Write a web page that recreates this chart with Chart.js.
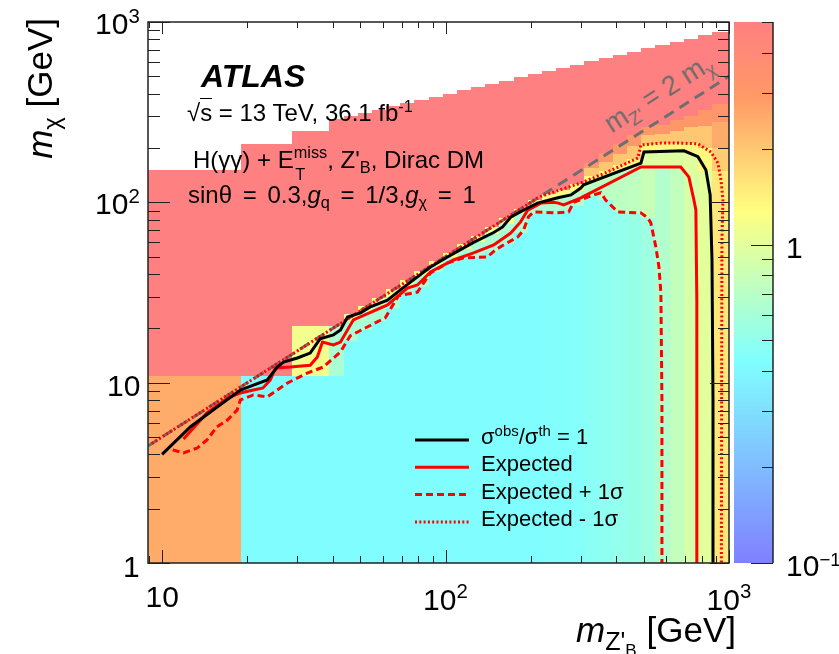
<!DOCTYPE html>
<html>
<head>
<meta charset="utf-8">
<script src="https://cdn.jsdelivr.net/npm/chart.js@4.4.1/dist/chart.umd.min.js"></script>
<style>
  body { margin: 0; background: #fff; }
  #wrap { position: relative; width: 839px; height: 654px; font-family: "Liberation Sans", Arial, Helvetica, sans-serif; color: #000; overflow: hidden; }
  #wrap canvas { position: absolute; left: 0; top: 0; }
  .t { position: absolute; white-space: nowrap; line-height: 1; }
  .sub { font-size: 0.68em; position: relative; top: 0.32em; }
  .sup { font-size: 0.68em; position: relative; top: -0.55em; }
  .stack { position: relative; display: inline-block; height: 0; }
  .stack span { position: absolute; left: 0; font-size: 0.68em; line-height: 1; }
</style>
</head>
<body>
<div id="wrap">
  <canvas id="c" width="839" height="654"></canvas>
  <div class="t" style="left:201px;top:60px;font-size:32px;font-weight:bold;font-style:italic">ATLAS</div>
  <div class="t" style="left:187px;top:101px;font-size:24px">√<span style="border-top:1.5px solid #000">s</span> = 13 TeV, 36.1 fb<span class="sup">-1</span></div>
  <div class="t" style="left:193px;top:148px;font-size:24px">H(γγ) + E<span class="stack" style="width:1.4em"><span style="bottom:0.46em">miss</span><span style="top:-0.11em;left:0.1em">T</span></span>, Z'<span class="sub">B</span>, Dirac DM</div>
  <div class="t" style="left:188px;top:183px;font-size:24px;word-spacing:4px">sinθ = 0.3,<i>g</i><span class="sub">q</span> = 1/3,<i>g</i><span class="sub">χ</span> = 1</div>
  <div class="t" style="left:481px;top:426px;font-size:22px">σ<span class="sup">obs</span>/σ<span class="sup">th</span> = 1</div>
  <div class="t" style="left:481px;top:453px;font-size:22px">Expected</div>
  <div class="t" style="left:481px;top:481px;font-size:22px">Expected + 1σ</div>
  <div class="t" style="left:481px;top:508px;font-size:22px">Expected - 1σ</div>
  <div class="t" style="left:436px;width:300px;text-align:right;top:612px;font-size:35px"><i>m</i><span class="sub" style="font-size:0.72em">Z'<span class="sub">B</span></span> [GeV]</div>
  <div class="t" style="left:22px;top:218px;width:200px;text-align:right;font-size:35px;transform-origin:0 0;transform:rotate(-90deg)"><i>m</i><span class="sub">χ</span> [GeV]</div>
  <div class="t" style="left:600px;top:115px;font-size:27px;color:#6b6b6b;transform-origin:0 0;transform:rotate(-32.5deg)">m<span class="sub">Z'</span> = 2 m<span class="sub">χ</span></div>
</div>
<script>
// sigma_obs / sigma_th map
const mzEdges = [8.92, 19, 28.8, 38.9, 43.7, 49.0, 55.0, 61.7, 69.2, 77.6, 87.1, 97.7, 109.6, 123, 138, 155, 174, 195, 219, 245, 275, 309, 347, 389, 437, 490, 550, 617, 692, 776, 871, 1000];
// upper end of the scanned m_chi range in each column
const mchiTop = [151, 211, 249, 288, 301, 313, 327, 340, 355, 370, 385, 401, 418, 436, 454, 473, 493, 514, 535, 558, 581, 606, 631, 658, 686, 714, 745, 776, 808, 843, 883];
// per column: [m_chi where a band starts, ratio in that band]
const ratioProfiles = [
  [[1, 2.5], [10.9, 5]],
  [[1, 0.43], [10.9, 5]],
  [[1, 0.43], [10.9, 1.15], [20.7, 5]],
  [[1, 0.43], [10.9, 0.62], [20.7, 5]],
  [[1, 0.43], [17, 0.62], [22, 1.2], [24, 5]],
  [[1, 0.43], [19.5, 0.62], [24.5, 1.2], [26.5, 5]],
  [[1, 0.43], [22, 0.62], [27, 1.2], [29.5, 5]],
  [[1, 0.43], [26, 0.62], [30, 1.2], [33, 5]],
  [[1, 0.43], [31, 0.62], [34, 1.2], [37, 5]],
  [[1, 0.43], [34, 0.62], [39, 1.2], [41.5, 5]],
  [[1, 0.43], [41, 0.62], [44.5, 1.2], [47, 5]],
  [[1, 0.43], [46, 0.62], [50, 1.2], [52.5, 5]],
  [[1, 0.43], [49, 0.62], [55, 1.2], [58.5, 5]],
  [[1, 0.43], [50, 0.62], [60, 1.2], [65, 5]],
  [[1, 0.43], [53, 0.62], [67, 1.2], [73, 5]],
  [[1, 0.43], [59, 0.62], [76, 1.2], [82, 5]],
  [[1, 0.43], [68, 0.62], [87, 1.2], [92, 5]],
  [[1, 0.43], [86, 0.62], [96, 1.2], [103, 5]],
  [[1, 0.44], [87, 0.62], [102, 1.2], [111, 5]],
  [[1, 0.44], [88, 0.64], [107, 1.2], [117, 5]],
  [[1, 0.45], [96, 0.66], [116, 1.25], [126, 5]],
  [[1, 0.47], [108, 0.7], [129, 1.3], [140, 2.0], [155, 3.0], [165, 5]],
  [[1, 0.49], [103, 0.72], [140, 1.3], [150, 2.0], [168, 3.0], [187, 5]],
  [[1, 0.51], [88, 0.72], [150, 1.3], [162, 2.0], [185, 3.0], [210, 5]],
  [[1, 0.53], [87, 0.74], [160, 1.3], [175, 2.0], [205, 3.0], [236, 5]],
  [[1, 0.56], [82, 0.8], [157, 0.95], [190, 1.35], [210, 2.0], [235, 3.0], [260, 5]],
  [[1, 0.66], [157, 0.95], [191, 1.35], [213, 2.0], [240, 3.0], [270, 5]],
  [[1, 0.76], [157, 0.95], [192, 1.35], [213, 2.0], [250, 3.0], [286, 5]],
  [[1, 0.9], [140, 0.98], [187, 1.35], [212, 2.0], [260, 3.0], [302, 5]],
  [[1, 1.0], [150, 1.35], [200, 2.0], [265, 3.0], [325, 5]],
  [[1, 1.55], [150, 1.9], [200, 2.5], [280, 3.2], [350, 5]]
];

// contours
const obsX = [10, 12.6, 15.6, 18.9, 21, 23.5, 25.5, 26.8, 30, 33.3, 36.1, 40.2, 42.6, 45.1, 50.1, 54.3, 62.4, 69.3, 79.6, 88.5, 101.6, 125.6, 147.9, 159, 170, 195, 211, 249, 277, 300, 307, 489, 501, 694, 777, 829, 858, 871, 878, 878];
const obsY = [4.0, 5.7, 7.3, 9.1, 9.7, 10.35, 12.2, 13.0, 13.7, 14.6, 17.5, 18.4, 19.6, 23.1, 24.4, 26.3, 28.7, 32.7, 38.6, 43.8, 49.8, 60, 68, 73, 83, 93, 99, 106, 110, 120, 125, 165, 190, 193, 179, 151, 110, 48, 8, 1];
const expX = [11.9, 12.9, 14.4, 17.0, 18.9, 21.0, 22.7, 24.1, 25.1, 28.3, 33.3, 35.3, 36.8, 40.2, 42.6, 47.3, 62.4, 73.4, 79.6, 88.5, 106.7, 125.6, 147.9, 169.8, 184, 195, 217, 241, 250, 261, 300, 489, 676, 722, 752, 764, 770, 770];
const expY = [4.87, 5.6, 6.79, 8.2, 8.77, 9.1, 9.35, 10.35, 12.06, 12.2, 12.5, 13.9, 16.8, 16.2, 16.8, 22.3, 27.0, 33.5, 34.8, 41.1, 47.9, 52.4, 58.0, 67.6, 77.9, 90.6, 99, 100, 99, 96.8, 106, 157, 157, 138, 103, 90.7, 28.7, 1];
const expUpX = [10.9, 11.9, 13.3, 14.4, 15.6, 17.0, 18.4, 18.9, 21.0, 23.5, 25.5, 27.7, 32.5, 37.0, 42.6, 46.1, 52.1, 61.3, 68.2, 79.6, 88.5, 101.6, 115.9, 140.6, 150, 160, 180, 188.6, 196, 204.6, 241, 272, 283, 333, 353, 367, 405, 489, 517, 530, 552, 566, 575, 580, 580];
const expUpY = [4.24, 4.08, 4.34, 4.81, 5.68, 6.21, 7.06, 8.02, 8.55, 8.33, 9.1, 9.96, 11.3, 12.2, 14.8, 18.2, 20.1, 22.9, 30.3, 31.8, 40.6, 46.1, 49.2, 49.8, 54.5, 58, 64.3, 70.3, 83, 88.5, 87.4, 88.5, 100, 110, 113, 103, 88.5, 87.4, 81.9, 76.9, 56.6, 43.8, 31.5, 8, 1];
const expDownX = [9.2, 20, 50, 100, 150, 211, 217, 300, 373, 477, 489, 575, 676, 777, 864, 914, 937, 952, 944, 940];
const expDownY = [4.6, 10, 25, 50, 75, 105.5, 108, 128, 147.4, 176, 208, 213, 213, 211, 190, 165, 133, 103, 60, 1];
const diagX = [8.92, 1000];
const diagY = [4.46, 500];

// axis labels
const xTickVals = [10, 100, 1000];
const xTickText = ['10', '10<span class="sup">2</span>', '10<span class="sup">3</span>'];
const yTickVals = [1, 10, 100, 1000];
const yTickText = ['1', '10', '10<span class="sup">2</span>', '10<span class="sup">3</span>'];
const zTickVals = [0.1, 1];
const zTickText = ['10<span class="sup" style="font-size:0.62em">−1</span>', '1'];

const paletteStops = [[0, [128, 128, 255]], [0.375, [128, 255, 255]], [0.65, [255, 255, 128]], [0.86, [255, 154, 102]], [1, [255, 128, 128]]];

function colourAt(t) {
  t = Math.max(0, Math.min(1, t));
  for (let i = 1; i < paletteStops.length; i++) {
    const [t1, c1] = paletteStops[i];
    const [t0, c0] = paletteStops[i - 1];
    if (t <= t1) {
      const f = (t - t0) / (t1 - t0);
      const c = c0.map((v, k) => Math.round(v + (c1[k] - v) * f));
      return `rgb(${c[0]},${c[1]},${c[2]})`;
    }
  }
  return 'rgb(255,128,128)';
}
function colourFor(cb, v) {
  return colourAt((cb.bottom - cb.getPixelForValue(v)) / (cb.bottom - cb.top));
}
function decadeTicks(lo, hi) {
  const out = [];
  for (let e = Math.floor(Math.log10(lo)); e <= Math.ceil(Math.log10(hi)); e++) {
    for (let k = 1; k < 10; k++) {
      const v = k * Math.pow(10, e);
      if (v >= lo * 0.999 && v <= hi * 1.001) out.push([v, k === 1]);
    }
  }
  return out;
}

const mapPlugin = {
  id: 'sigmaMap',
  beforeDatasetsDraw(chart) {
    const { ctx, chartArea: a, scales: { x, y, cb } } = chart;
    ctx.save();
    ctx.beginPath();
    ctx.rect(a.left, a.top, a.right - a.left, a.bottom - a.top);
    ctx.clip();
    ratioProfiles.forEach((prof, c) => {
      const x0 = Math.round(x.getPixelForValue(mzEdges[c]));
      const x1 = Math.round(x.getPixelForValue(mzEdges[c + 1]));
      prof.forEach((band, k) => {
        const hi = k + 1 < prof.length ? prof[k + 1][0] : mchiTop[c];
        const p0 = Math.round(y.getPixelForValue(band[0]));
        const p1 = Math.round(y.getPixelForValue(hi));
        ctx.fillStyle = colourFor(cb, band[1]);
        ctx.fillRect(x0, p1, x1 - x0, p0 - p1);
      });
    });
    ctx.restore();
  },
  afterDatasetsDraw(chart) {
    const { ctx, chartArea: a, scales: { x, y, cb } } = chart;
    ctx.save();
    // colour bar
    const barL = a.right + 5, barR = a.right + 44;
    for (let py = Math.round(cb.top); py < Math.round(cb.bottom); py++) {
      ctx.fillStyle = colourFor(cb, cb.getValueForPixel(py + 0.5));
      ctx.fillRect(barL, py, barR - barL, 1);
    }
    ctx.strokeStyle = '#222';
    ctx.lineWidth = 1;
    ctx.beginPath();
    decadeTicks(1, 1000).forEach(([v, major]) => {
      const py = Math.round(y.getPixelForValue(v)) + 0.5;
      ctx.moveTo(a.left, py); ctx.lineTo(a.left + (major ? 22 : 12), py);
      ctx.moveTo(a.right, py); ctx.lineTo(a.right - (major ? 19 : 11), py);
    });
    decadeTicks(8.92, 1000).forEach(([v, major]) => {
      const px = Math.round(x.getPixelForValue(v)) + 0.5;
      ctx.moveTo(px, a.bottom); ctx.lineTo(px, a.bottom - (major ? 13 : 7));
      ctx.moveTo(px, a.top); ctx.lineTo(px, a.top + (major ? 12 : 6));
    });
    decadeTicks(0.1, 5).forEach(([v, major]) => {
      const py = Math.round(cb.getPixelForValue(v)) + 0.5;
      ctx.moveTo(barR, py); ctx.lineTo(barR - (major ? 22 : 11), py);
    });
    ctx.stroke();
    ctx.lineWidth = 1.5;
    ctx.strokeRect(a.left, a.top, a.right - a.left, a.bottom - a.top);
    ctx.beginPath();
    ctx.moveTo(barR, cb.top); ctx.lineTo(barR, cb.bottom);
    ctx.stroke();
    // legend samples
    const samples = [['#000', []], ['#ff0000', []], ['#ff0000', [7, 4]], ['#ff0000', [2, 2.3]]];
    samples.forEach(([col, dash], i) => {
      const ly = 440 + i * 27.3;
      ctx.strokeStyle = col;
      ctx.lineWidth = 3;
      ctx.setLineDash(dash);
      ctx.beginPath();
      ctx.moveTo(415, ly); ctx.lineTo(469, ly);
      ctx.stroke();
    });
    ctx.restore();
  }
};

const pts = (xs, ys) => xs.map((v, i) => ({ x: v, y: ys[i] }));
const lineDefaults = { showLine: true, pointRadius: 0, fill: false, tension: 0 };

const chart = new Chart(document.getElementById('c'), {
  type: 'scatter',
  data: {
    datasets: [
      { ...lineDefaults, label: 'observed', data: pts(obsX, obsY), borderColor: '#000', borderWidth: 3, order: 1 },
      { ...lineDefaults, label: 'expected', data: pts(expX, expY), borderColor: '#ff0000', borderWidth: 3, order: 2 },
      { ...lineDefaults, label: 'expected +1s', data: pts(expUpX, expUpY), borderColor: '#ff0000', borderWidth: 3, borderDash: [7, 4], order: 3 },
      { ...lineDefaults, label: 'expected -1s', data: pts(expDownX, expDownY), borderColor: '#ff0000', borderWidth: 3, borderDash: [2, 2.3], order: 4 },
      { ...lineDefaults, label: 'mZ = 2 mchi', data: pts(diagX, diagY), borderColor: '#6e6e6e', borderWidth: 3, borderDash: [11, 7], order: 5 }
    ]
  },
  options: {
    responsive: false,
    animation: false,
    events: [],
    layout: { padding: { left: 148, right: 110, top: 22, bottom: 91 } },
    plugins: { legend: { display: false }, tooltip: { enabled: false } },
    scales: {
      x: { type: 'logarithmic', min: 8.92, max: 1000, display: false },
      y: { type: 'logarithmic', min: 1, max: 1000, display: false },
      cb: { type: 'logarithmic', position: 'right', axis: 'y', min: 0.1, max: 5, display: false }
    }
  },
  plugins: [mapPlugin]
});

// tick labels as text, placed with the chart's scales
const wrap = document.getElementById('wrap');
function addLabel(html, size, left, baseline, align) {
  const d = document.createElement('div');
  d.className = 't';
  d.style.fontSize = size + 'px';
  d.innerHTML = html;
  wrap.appendChild(d);
  const w = d.offsetWidth;
  if (align === 'center') left -= w / 2;
  if (align === 'right') left -= w;
  d.style.left = left + 'px';
  d.style.top = (baseline - 0.8465 * size) + 'px';
}
const sx = chart.scales.x, sy = chart.scales.y, sz = chart.scales.cb;
xTickVals.forEach((v, i) => addLabel(xTickText[i], 30, sx.getPixelForValue(v), i === 0 ? 607 : 610, 'center'));
yTickVals.forEach((v, i) => addLabel(yTickText[i], 30, 140, sy.getPixelForValue(v) + (i < 2 ? 14 : 12.5), 'right'));
zTickVals.forEach((v, i) => addLabel(zTickText[i], 30, 786, sz.getPixelForValue(v) + 13.5, 'left'));
</script>
</body>
</html>
